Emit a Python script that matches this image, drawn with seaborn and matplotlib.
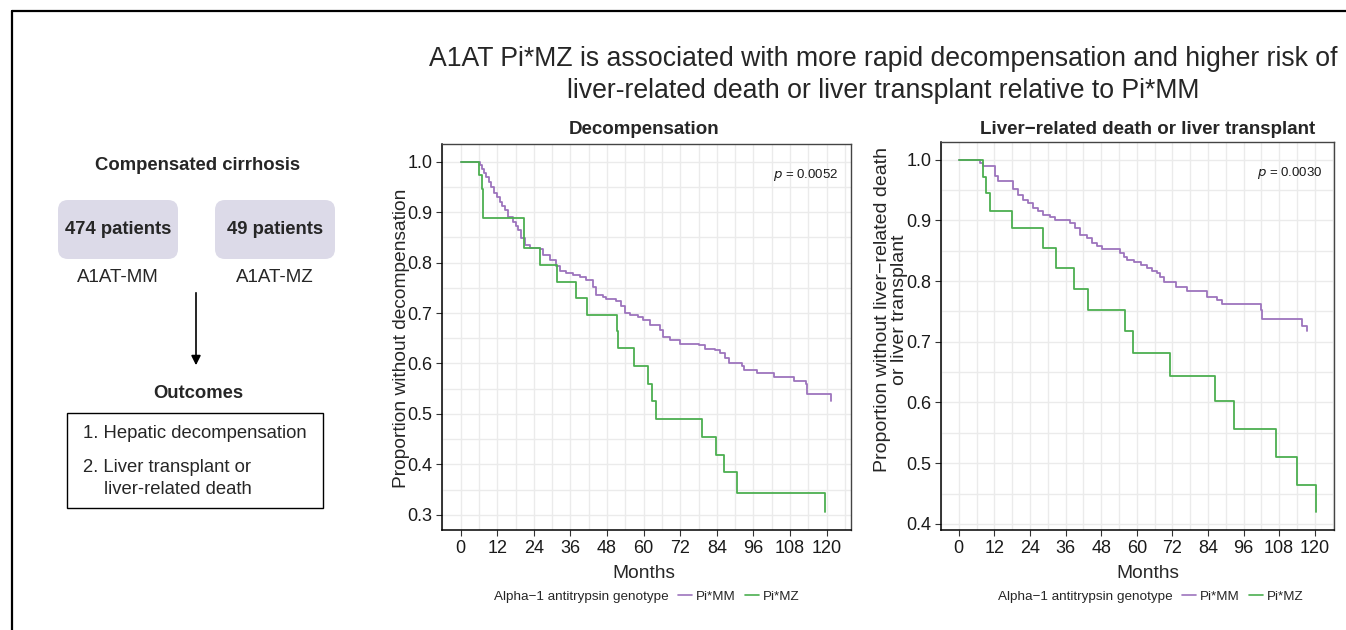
import matplotlib
matplotlib.use("Agg")
import pandas as pd
import seaborn as sns
import matplotlib.pyplot as plt
from matplotlib.lines import Line2D
from matplotlib.patches import FancyBboxPatch, Rectangle
from matplotlib.ticker import FormatStrFormatter, MultipleLocator

# Kaplan-Meier step points (month, survival after the step)
decomp_mm_t = [0, 6.4, 7.0, 7.6, 8.4, 9.2, 10.1, 11.1, 12.0, 12.8, 13.6, 14.4, 15.5, 17.2, 18.0,
               18.8, 19.9, 21.0, 22.6, 25.9, 27.0, 29.2, 31.4, 32.5, 34.6, 36.8, 39.0, 41.2,
               43.4, 44.5, 46.7, 47.8, 51.0, 52.7, 53.8, 55.5, 58.2, 59.9, 62.1, 65.4, 66.5,
               68.7, 72.0, 78.0, 80.2, 83.5, 85.1, 86.8, 87.9, 92.3, 92.8, 97.2, 102.7, 109.3,
               113.2, 113.7, 121.5]
decomp_mm_s = [1.0, 0.993, 0.985, 0.978, 0.970, 0.960, 0.950, 0.937, 0.929, 0.921, 0.912, 0.904,
               0.890, 0.881, 0.873, 0.865, 0.848, 0.835, 0.828, 0.826, 0.815, 0.805, 0.793,
               0.784, 0.780, 0.775, 0.771, 0.766, 0.752, 0.736, 0.732, 0.727, 0.723, 0.713,
               0.700, 0.697, 0.692, 0.687, 0.677, 0.667, 0.653, 0.646, 0.639, 0.636, 0.628,
               0.626, 0.621, 0.611, 0.600, 0.595, 0.588, 0.582, 0.574, 0.565, 0.559, 0.540, 0.526]
decomp_mz_t = [0, 6.0, 7.0, 7.4, 20.8, 25.9, 31.7, 37.7, 41.5, 51.4, 51.7, 56.7, 61.5, 62.8,
               64.0, 79.3, 83.7, 86.2, 90.7, 119.5]
decomp_mz_s = [1.0, 0.974, 0.945, 0.889, 0.828, 0.795, 0.762, 0.729, 0.696, 0.664, 0.630, 0.596,
               0.559, 0.525, 0.489, 0.455, 0.419, 0.384, 0.344, 0.305]

death_mm_t = [0, 7.1, 8.2, 12.2, 13.3, 18.4, 20.0, 21.7, 23.4, 25.1, 26.8, 28.5, 30.7, 32.4,
              37.5, 39.2, 40.9, 43.1, 44.8, 46.5, 48.2, 51.2, 54.3, 55.7, 56.8, 59.1, 61.3,
              63.6, 65.2, 66.9, 68.0, 69.2, 73.1, 77.0, 83.8, 87.1, 88.8, 101.8, 102.3, 115.6,
              117.5]
death_mm_s = [1.0, 0.995, 0.989, 0.973, 0.964, 0.951, 0.942, 0.934, 0.929, 0.920, 0.915, 0.909,
              0.905, 0.900, 0.895, 0.887, 0.876, 0.871, 0.863, 0.857, 0.853, 0.852, 0.846,
              0.839, 0.835, 0.832, 0.827, 0.821, 0.817, 0.813, 0.806, 0.799, 0.790, 0.784,
              0.773, 0.768, 0.762, 0.752, 0.737, 0.726, 0.717]
death_mz_t = [0, 8.2, 9.3, 10.5, 17.8, 28.3, 32.7, 38.7, 43.5, 56.0, 58.7, 71.3, 86.5, 92.8,
              106.8, 114.0, 120.5]
death_mz_s = [1.0, 0.971, 0.945, 0.916, 0.887, 0.855, 0.821, 0.787, 0.752, 0.718, 0.682, 0.644,
              0.602, 0.556, 0.510, 0.464, 0.419]

genotypes = ["Pi*MM", "Pi*MZ"]
palette = {"Pi*MM": "#9d74bd", "Pi*MZ": "#4caf50"}
month_ticks = list(range(0, 121, 12))

W, H = 1346, 630


def fx(x):
    return x / W


def fy(y):
    return 1 - y / H


def km_frame(mm_t, mm_s, mz_t, mz_s):
    a = pd.DataFrame({"month": mm_t, "surv": mm_s, "genotype": genotypes[0]})
    b = pd.DataFrame({"month": mz_t, "surv": mz_s, "genotype": genotypes[1]})
    return pd.concat([a, b], ignore_index=True)


sns.set_theme(style="white")
plt.rcParams["font.family"] = ["Liberation Sans", "DejaVu Sans"]

fig = plt.figure(figsize=(W / 100, H / 100), dpi=100)

# frame of the original figure (top and left edge)
fig.add_artist(Line2D([fx(12), 1], [fy(11), fy(11)], color="black", lw=1.6))
fig.add_artist(Line2D([fx(12), fx(12)], [fy(11), 0], color="black", lw=1.6))


def km_panel(rect, df, xlim, ylim, title, pval, cx):
    ax = fig.add_axes(rect)
    sns.lineplot(data=df, x="month", y="surv", hue="genotype", palette=palette,
                 drawstyle="steps-post", estimator=None, legend=False, lw=1.3, ax=ax)
    ax.set_xlim(*xlim)
    ax.set_ylim(*ylim)
    ax.set_xticks(month_ticks)
    ax.xaxis.set_minor_locator(MultipleLocator(6))
    ax.yaxis.set_major_locator(MultipleLocator(0.1))
    ax.yaxis.set_minor_locator(MultipleLocator(0.05))
    ax.yaxis.set_major_formatter(FormatStrFormatter("%.1f"))
    ax.grid(which="both", color="#ebebeb", lw=1.0)
    ax.set_axisbelow(True)
    ax.tick_params(which="major", direction="out", length=4, width=0.8, color="#333333",
                   labelsize=13, labelcolor="#1a1a1a", pad=3, left=True, bottom=True)
    ax.tick_params(which="minor", length=0)
    for side in ["top", "right"]:
        ax.spines[side].set_color("#444444")
        ax.spines[side].set_linewidth(1.0)
    for side in ["left", "bottom"]:
        ax.spines[side].set_color("black")
        ax.spines[side].set_linewidth(1.1)
    ax.set_xlabel("")
    ax.set_ylabel("")
    ax.text(0.97, 0.92, r"$p$ = " + pval, transform=ax.transAxes, ha="right", va="center",
            fontsize=9.5, color="#1a1a1a")
    fig.text(fx(cx), fy(130), title, ha="center", va="center", fontsize=13.5,
             fontweight="bold")
    fig.text(fx(cx), fy(573), "Months", ha="center", va="center", fontsize=13.8)
    handles = [Line2D([], [], alpha=0)] + [Line2D([], [], color=palette[g], lw=1.2)
                                           for g in genotypes]
    fig.legend(handles, ["Alpha\u22121 antitrypsin genotype"] + genotypes, loc="center",
               bbox_to_anchor=(fx(cx - 6), fy(597)), ncol=3, frameon=False, fontsize=9.7,
               handlelength=1.0, handletextpad=0.3, columnspacing=0.7)
    return ax


decomp = km_frame(decomp_mm_t, decomp_mm_s, decomp_mz_t, decomp_mz_s)
death = km_frame(death_mm_t, death_mm_s, death_mz_t, death_mz_s)

km_panel([fx(442), fy(530), fx(851) - fx(442), fy(144) - fy(530)], decomp, (-6.1, 128.0),
         (0.27, 1.035), "Decompensation", "0.0052", 644)
km_panel([fx(941), fy(530), fx(1334) - fx(941), fy(142) - fy(530)], death, (-6.0, 126.5),
         (0.39, 1.029), "Liver\u2212related death or liver transplant", "0.0030", 1148)

fig.text(fx(401), fy(338), "Proportion without decompensation", rotation=90, ha="center",
         va="center", fontsize=13.8)
fig.text(fx(891), fy(310), "Proportion without liver\u2212related death\nor liver transplant",
         rotation=90, ha="center", va="center", fontsize=14, linespacing=0.95)

# overall title
fig.text(fx(883), fy(75), "A1AT Pi*MZ is associated with more rapid decompensation and higher risk of\n"
         "liver-related death or liver transplant relative to Pi*MM", ha="center", va="center",
         fontsize=19.2, linespacing=1.28)

# study-design panel on the left
ax0 = fig.add_axes([0, 0, 1, 1], zorder=-1)
ax0.set_xlim(0, W)
ax0.set_ylim(H, 0)
ax0.axis("off")
ax0.text(198, 165, "Compensated cirrhosis", ha="center", va="center", fontsize=13.3,
         fontweight="bold")
for x0, n, label in [(58, "474 patients", "A1AT-MM"), (215, "49 patients", "A1AT-MZ")]:
    ax0.add_patch(FancyBboxPatch((x0 + 10, 210), 100, 39, boxstyle="round,pad=10",
                                 fc="#dcdae8", ec="none"))
    ax0.text(x0 + 60, 229, n, ha="center", va="center", fontsize=13.3, fontweight="bold")
    ax0.text(x0 + 60, 277, label, ha="center", va="center", fontsize=13.5)
ax0.annotate("", xy=(196, 368), xytext=(196, 290),
             arrowprops=dict(arrowstyle="-|>", color="black", lw=1.2, mutation_scale=14))
ax0.text(198, 393, "Outcomes", ha="center", va="center", fontsize=13.3, fontweight="bold")
ax0.add_patch(Rectangle((67, 413), 256, 95, fc="white", ec="black", lw=1.0))
ax0.text(83, 434, "1. Hepatic decompensation", ha="left", va="center", fontsize=13.3)
ax0.text(83, 467, "2. Liver transplant or", ha="left", va="center", fontsize=13.3)
ax0.text(104, 489, "liver-related death", ha="left", va="center", fontsize=13.3)

fig.savefig("out.png", dpi=100)
